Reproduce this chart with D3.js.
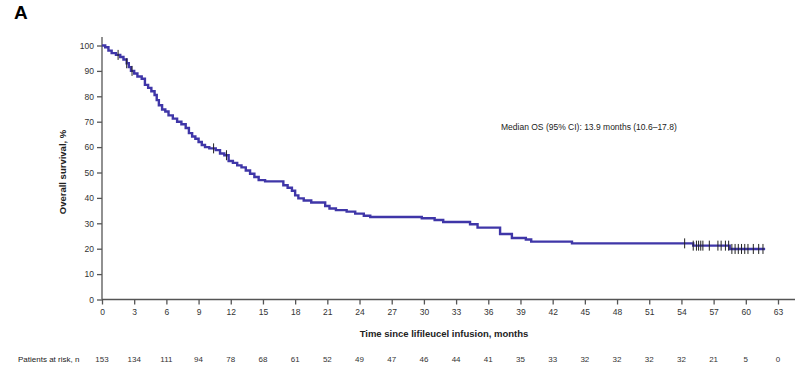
<!DOCTYPE html>
<html>
<head>
<meta charset="utf-8">
<script src="https://cdn.jsdelivr.net/npm/d3@7"></script>
<style>
  body { margin: 0; background: #fff; }
  svg { font-family: "Liberation Sans", Arial, sans-serif; }
</style>
</head>
<body>
<svg id="chart" width="800" height="371"></svg>
<script>
// KM step data (time in months, survival % after the step)
var stepTimes = [0, 0.3, 0.6, 0.9, 1.3, 1.7, 2.0, 2.3, 2.5, 2.7, 3.0, 3.3, 3.7, 4.0, 4.3, 4.6, 4.9,
    5.1, 5.3, 5.6, 5.9, 6.2, 6.6, 7.0, 7.4, 7.8, 8.1, 8.4, 8.7, 9.0, 9.3, 9.6, 10.0, 10.6,
    11.0, 11.4, 11.8, 12.2, 12.6, 13.0, 13.4, 13.8, 14.2, 14.6, 15.2, 16.9, 17.3, 17.7,
    18.0, 18.3, 18.8, 19.5, 20.8, 21.2, 21.8, 22.8, 23.6, 24.4, 25.0, 29.8, 31.0, 31.8,
    34.3, 35.0, 37.1, 38.2, 39.5, 40.0, 43.8, 55.1, 58.5];
var stepSurv = [100, 99.3, 98.0, 97.0, 96.3, 95.5, 94.5, 93.0, 91.5, 90.0, 89.0, 87.8, 86.9, 84.5, 83.3, 82.0, 80.5,
    78.5, 76.5, 74.8, 74.0, 72.5, 71.2, 70.0, 69.0, 67.5, 65.5, 64.2, 63.3, 62.0, 60.8, 60.0, 59.5, 58.8,
    57.5, 56.8, 54.5, 53.8, 52.8, 52.0, 50.8, 49.5, 48.2, 47.0, 46.5, 45.0, 44.0, 42.8,
    41.0, 39.8, 39.0, 38.2, 36.8, 35.8, 35.2, 34.6, 33.8, 33.0, 32.5, 32.0, 31.3, 30.5,
    29.6, 28.3, 25.8, 24.2, 23.6, 22.8, 22.1, 21.2, 19.9];
var lastTime = 61.8;
var censorTimes = [1.5, 2.3, 2.8, 10.4, 11.6, 54.3, 55.1, 55.4, 55.6, 55.8, 56.0, 56.6, 57.4, 57.7,
    58.1, 58.4, 58.7, 59.0, 59.3, 59.6, 59.9, 60.2, 60.7, 61.2, 61.6];
var xTicks = d3.range(0, 64, 3);
var yTicks = d3.range(0, 101, 10);
var atRisk = [153, 134, 111, 94, 78, 68, 61, 52, 49, 47, 46, 44, 41, 35, 33, 32, 32, 32, 32, 21, 5, 0];

var svg = d3.select("#chart");
var lineColor = "#3f36a8",
    axisColor = "#555";

var x = d3.scaleLinear().domain([0, 63]).range([102, 778]);
var y = d3.scaleLinear().domain([0, 100]).range([299.5, 45.5]);

// survival at time t
function survAt(t) {
    var s = 100;
    for (var i = 0; i < stepTimes.length; i++) {
        if (stepTimes[i] <= t) s = stepSurv[i];
    }
    return s;
}

// panel letter
svg.append("text").attr("x", 14).attr("y", 19)
    .attr("font-size", 19).attr("font-weight", "bold").text("A");

// Axes
var xAxis = d3.axisBottom(x).tickValues(xTicks).tickSize(5).tickPadding(4);
var yAxis = d3.axisLeft(y).tickValues(yTicks).tickSize(5).tickPadding(3);

var gx = svg.append("g").attr("transform", "translate(0," + y(0) + ")").call(xAxis);
gx.select(".domain").attr("d", "M" + x(0) + ",0H795");
var gy = svg.append("g").attr("transform", "translate(" + x(0) + ",0)").call(yAxis);
gy.select(".domain").attr("d", "M0," + y(0) + "V37");

[gx, gy].forEach(function(g) {
    g.selectAll("path, line").attr("stroke", axisColor).attr("stroke-width", 1.3);
    g.selectAll("text").attr("font-size", 8.5).attr("fill", "#333")
        .attr("font-family", "Liberation Sans, Arial, sans-serif");
});

// axis titles
svg.append("text").attr("x", 444).attr("y", 337).attr("text-anchor", "middle")
    .attr("font-size", 9.5).attr("font-weight", "bold").attr("fill", "#222")
    .text("Time since lifileucel infusion, months");
svg.append("text").attr("transform", "translate(66,172) rotate(-90)")
    .attr("text-anchor", "middle").attr("font-size", 9.5).attr("font-weight", "bold").attr("fill", "#222")
    .text("Overall survival, %");

// KM curve
var pts = stepTimes.map(function(t, i) { return [t, stepSurv[i]]; });
pts.push([lastTime, stepSurv[stepSurv.length - 1]]);
var km = d3.line().x(function(d) { return x(d[0]); }).y(function(d) { return y(d[1]); })
    .curve(d3.curveStepAfter);
svg.append("path").datum(pts).attr("d", km)
    .attr("fill", "none").attr("stroke", lineColor).attr("stroke-width", 2.4);

// censor marks
svg.append("g").selectAll("line").data(censorTimes).enter().append("line")
    .attr("x1", function(d) { return x(d); }).attr("x2", function(d) { return x(d); })
    .attr("y1", function(d) { return y(survAt(d)) - 5; })
    .attr("y2", function(d) { return y(survAt(d)) + 5; })
    .attr("stroke", "#222").attr("stroke-width", 1);

// annotation
svg.append("text").attr("x", 501).attr("y", 130).attr("font-size", 8.5).attr("fill", "#222")
    .text("Median OS (95% CI): 13.9 months (10.6\u201317.8)");

// risk table
svg.append("text").attr("x", 18).attr("y", 362).attr("font-size", 8).attr("fill", "#222")
    .text("Patients at risk, n");
svg.append("g").selectAll("text").data(atRisk).enter().append("text")
    .attr("x", function(d, i) { return x(xTicks[i]); }).attr("y", 362)
    .attr("text-anchor", "middle").attr("font-size", 8).attr("fill", "#333")
    .text(function(d) { return d; });
</script>
</body>
</html>
